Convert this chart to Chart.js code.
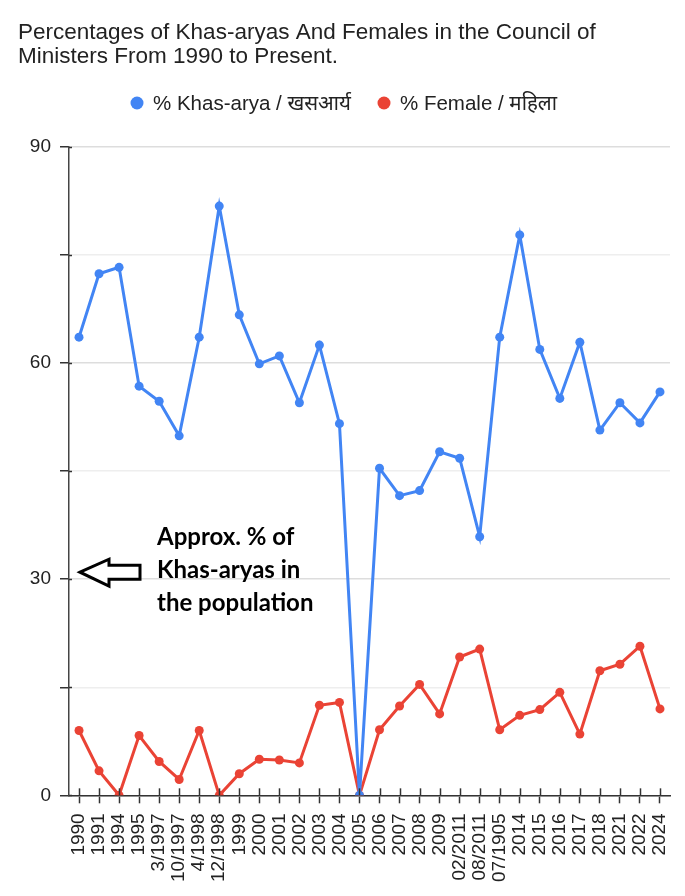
<!DOCTYPE html>
<html>
<head>
<meta charset="utf-8">
<script src="https://cdn.jsdelivr.net/npm/chart.js@4/dist/chart.umd.min.js"></script>
<style>
  html, body { margin: 0; padding: 0; background: #ffffff; }
  #wrap { width: 685px; height: 896px; }
</style>
</head>
<body>
<div id="wrap"><canvas id="c" width="685" height="896"></canvas></div>
<script>
const titleLines = ['Percentages of Khas-aryas And Females in the Council of', 'Ministers From 1990 to Present.'];
const categories = ['1990','1991','1994','1995','3/1997','10/1997','4/1998','12/1998','1999','2000','2001','2002','2003','2004','2005','2006','2007','2008','2009','02/2011','08/2011','07/1905','2014','2015','2016','2017','2018','2021','2022','2024'];
const khasArya = [63.6,72.4,73.3,56.8,54.7,49.9,63.6,81.8,66.7,59.9,61.0,54.5,62.5,51.6,0,45.4,41.6,42.3,47.7,46.8,35.9,63.6,77.8,61.9,55.1,62.9,50.7,54.5,51.7,56.0];
const female = [9.0,3.4,0,8.3,4.7,2.2,9.0,0,3.0,5.0,4.9,4.5,12.5,12.9,0,9.1,12.4,15.4,11.3,19.2,20.3,9.1,11.1,11.9,14.3,8.5,17.3,18.2,20.7,12.0];
const seriesNames = ['% Khas-arya / खसआर्य', '% Female / महिला'];
const seriesColors = ['#4285F4', '#EA4335'];
const yLabelValues = [0, 30, 60, 90];
const annotationLines = ['Approx. % of', 'Khas-aryas in', 'the population'];
const annotationValue = 30;

const FONT = "'Liberation Sans', Arial, 'Noto Sans', sans-serif";

const extrasPlugin = {
  id: 'extras',
  afterDraw(chart) {
    const ctx = chart.ctx;
    const xs = chart.scales.x, ys = chart.scales.y;
    const area = chart.chartArea;
    ctx.save();
    // upward part of x tick marks (ticks cross the axis)
    ctx.strokeStyle = '#333333';
    ctx.lineWidth = 1.5;
    xs.ticks.forEach((t, i) => {
      const px = Math.round(xs.getPixelForTick(i)) + 0.5;
      ctx.beginPath();
      ctx.moveTo(px, area.bottom - 7);
      ctx.lineTo(px, area.bottom);
      ctx.stroke();
    });
    // small right part of y tick marks
    ys.ticks.forEach((t, i) => {
      const py = Math.round(ys.getPixelForTick(i)) + 0.5;
      ctx.beginPath();
      ctx.moveTo(area.left, py);
      ctx.lineTo(area.left + 3, py);
      ctx.stroke();
    });

    // legend
    ctx.font = '20.5px ' + FONT;
    ctx.textBaseline = 'middle';
    ctx.textAlign = 'left';
    const legY = 103;
    const legX = [137, 384];
    chart.data.datasets.forEach((ds, i) => {
      ctx.fillStyle = ds.borderColor;
      ctx.beginPath();
      ctx.arc(legX[i], legY, 6.5, 0, Math.PI * 2);
      ctx.fill();
      ctx.fillStyle = '#222222';
      ctx.fillText(ds.label, legX[i] + 16, legY + 1);
    });

    // annotation arrow pointing at the y axis
    const yRef = ys.getPixelForValue(annotationValue) - 7;
    const tipX = area.left + 11;
    ctx.beginPath();
    ctx.moveTo(tipX, yRef);
    ctx.lineTo(tipX + 29, yRef - 13);
    ctx.lineTo(tipX + 29, yRef - 7);
    ctx.lineTo(tipX + 60, yRef - 7);
    ctx.lineTo(tipX + 60, yRef + 7);
    ctx.lineTo(tipX + 29, yRef + 7);
    ctx.lineTo(tipX + 29, yRef + 14);
    ctx.closePath();
    ctx.fillStyle = '#ffffff';
    ctx.fill();
    ctx.strokeStyle = '#000000';
    ctx.lineWidth = 3;
    ctx.lineJoin = 'miter';
    ctx.stroke();

    // annotation text
    ctx.font = "bold 24px Lato, 'Open Sans', sans-serif";
    ctx.fillStyle = '#000000';
    ctx.textBaseline = 'middle';
    annotationLines.forEach((line, i) => {
      ctx.fillText(line, area.left + 88, yRef - 35 + i * 33);
    });
    ctx.restore();
  }
};

new Chart(document.getElementById('c'), {
  type: 'line',
  data: {
    labels: categories,
    datasets: [
      {
        label: seriesNames[0],
        data: khasArya,
        borderColor: seriesColors[0],
        backgroundColor: seriesColors[0],
        borderWidth: 3,
        pointRadius: 4.5,
        pointHoverRadius: 4.5,
        pointBorderWidth: 0,
        tension: 0,
        fill: false
      },
      {
        label: seriesNames[1],
        data: female,
        borderColor: seriesColors[1],
        backgroundColor: seriesColors[1],
        borderWidth: 3,
        pointRadius: 4.5,
        pointHoverRadius: 4.5,
        pointBorderWidth: 0,
        tension: 0,
        fill: false
      }
    ]
  },
  options: {
    responsive: false,
    animation: false,
    events: [],
    layout: { padding: { left: 18, right: 15, top: 0, bottom: 4 } },
    plugins: {
      legend: { display: false },
      tooltip: { enabled: false },
      title: {
        display: true,
        text: titleLines,
        align: 'start',
        color: '#222222',
        font: { family: FONT, size: 22.5, weight: 'normal', lineHeight: 1.067 },
        padding: { top: 21, bottom: 78 }
      }
    },
    scales: {
      x: {
        type: 'category',
        offset: true,
        afterFit(scale) { scale.paddingRight = 0; scale.paddingLeft = 0; },
        grid: {
          display: true,
          drawOnChartArea: false,
          drawTicks: true,
          tickLength: 8,
          tickColor: '#333333',
          tickWidth: 1.5,
          offset: false
        },
        border: { display: true, color: '#333333', width: 1.5 },
        ticks: {
          autoSkip: false,
          maxRotation: 90,
          minRotation: 90,
          padding: 10,
          color: '#222222',
          font: { family: FONT, size: 19 }
        }
      },
      y: {
        min: 0,
        max: 90,
        afterFit(scale) { scale.width = 51; },
        grid: {
          color: (c) => (c.tick && yLabelValues.includes(c.tick.value) ? '#dddddd' : '#eeeeee'),
          lineWidth: 1.5,
          drawTicks: true,
          tickLength: 9,
          tickColor: '#333333',
          tickWidth: 1.5
        },
        border: { display: true, color: '#444444', width: 1.5 },
        ticks: {
          stepSize: 15,
          padding: 9,
          color: '#222222',
          font: { family: FONT, size: 19 },
          callback: (v) => (yLabelValues.includes(v) ? String(v) : '')
        }
      }
    }
  },
  plugins: [extrasPlugin]
});
</script>
</body>
</html>
